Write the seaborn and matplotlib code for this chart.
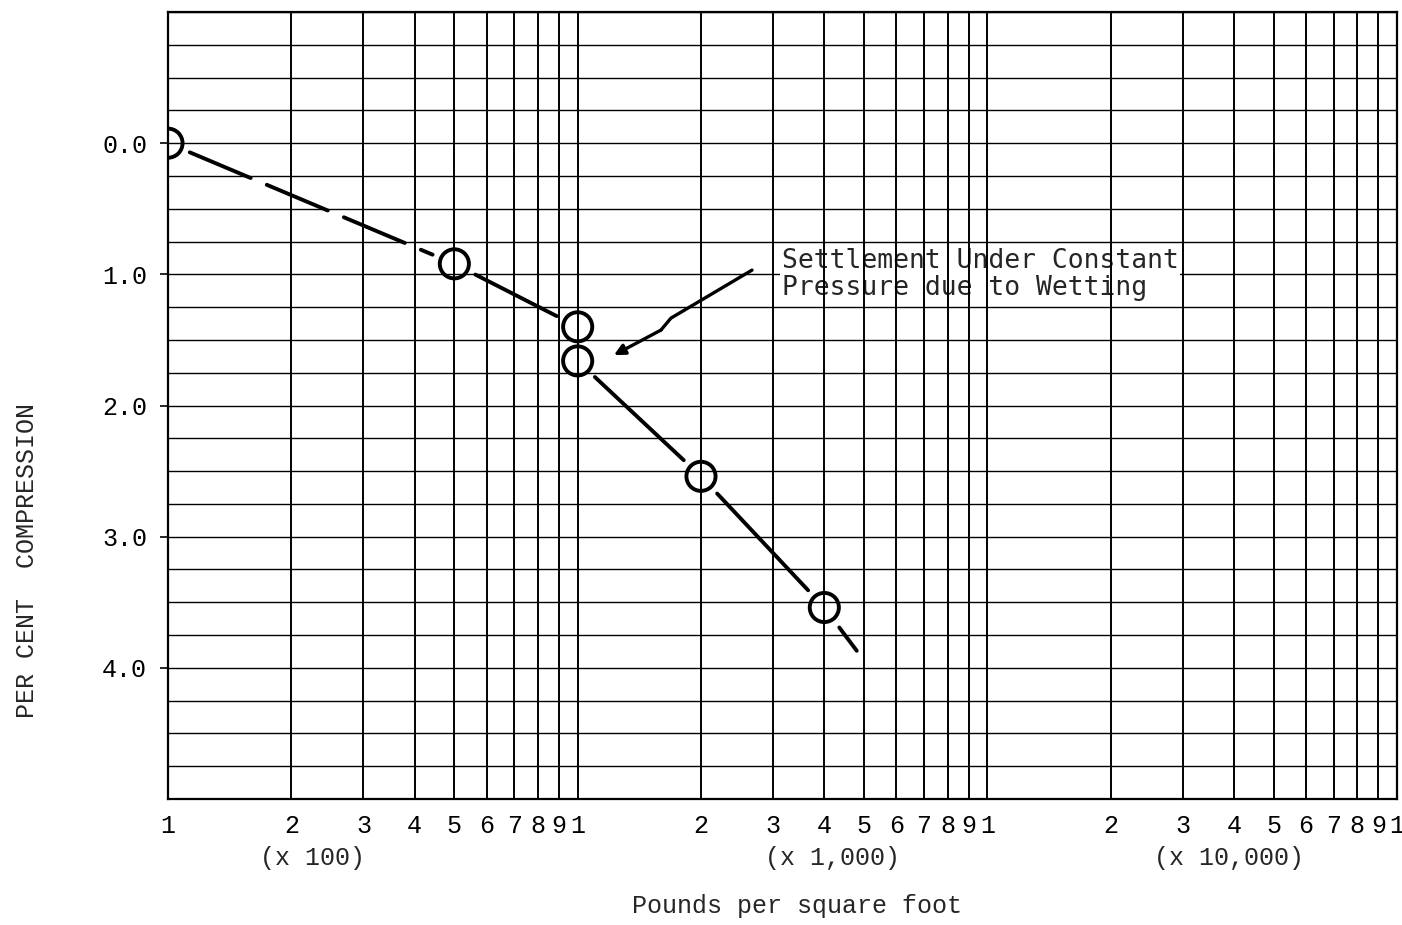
import numpy as np
import matplotlib
matplotlib.use("Agg")
import matplotlib.pyplot as plt
import seaborn as sns
from matplotlib.ticker import FixedLocator, FixedFormatter, MultipleLocator, NullLocator

# ---------------- data ----------------
pressure = [100, 500, 1000, 1000, 2000, 4000]          # lb / sq ft
compression = [0.0, 0.92, 1.40, 1.66, 2.54, 3.54]     # per cent
trend_end_pressure = 4800
trend_end_compression = 3.87
# style of the line joining consecutive points (None = no line)
segment_styles = ["dashed", "solid", None, "solid", "solid"]

x_tick_values = [m * 10 ** e for e in (2, 3, 4) for m in range(1, 10)] + [100000]
x_tick_labels = [str(m) for e in (2, 3, 4) for m in range(1, 10)] + ["1"]
y_tick_values = [0, 1, 2, 3, 4]
y_tick_labels = ["0.0", "1.0", "2.0", "3.0", "4.0"]
decade_labels = ["(x 100)", "(x 1,000)", "(x 10,000)"]
decade_label_x = [225, 4200, 39000]
annotation_text = "Settlement Under Constant\nPressure due to Wetting"

# ---------------- style ----------------
sns.set_style("white")
plt.rcParams["font.family"] = ["Liberation Mono", "DejaVu Sans Mono"]

fig = plt.figure(figsize=(14.02, 9.25), dpi=100)
W, H = 1402, 925
ax = fig.add_axes([168 / W, 1 - 799 / H, (1397 - 168) / W, (799 - 12) / H])

ax.set_xscale("log")
ax.set_xlim(100, 100000)
ax.set_ylim(5, -1)

ax.xaxis.set_major_locator(FixedLocator(x_tick_values))
ax.xaxis.set_major_formatter(FixedFormatter(x_tick_labels))
ax.xaxis.set_minor_locator(NullLocator())
ax.tick_params(axis="x", which="major", length=0, pad=11, labelsize=18, colors="black")

ax.yaxis.set_major_locator(FixedLocator(y_tick_values))
ax.yaxis.set_major_formatter(FixedFormatter(y_tick_labels))
ax.yaxis.set_minor_locator(MultipleLocator(0.25))
ax.tick_params(axis="y", which="major", direction="out", length=6, width=1.2,
               pad=9, labelsize=18, left=True, colors="black")
ax.tick_params(axis="y", which="minor", length=0)

ax.grid(axis="x", which="major", color="black", lw=1.4)
ax.grid(axis="y", which="both", color="black", lw=1.0)
for sp in ax.spines.values():
    sp.set_color("black")
    sp.set_linewidth(1.6)

# horizontal grid beneath the typed note, vertical grid over it
ax.yaxis.set_zorder(0.5)
ax.xaxis.set_zorder(2.0)

# ---------------- curve ----------------
for i, style in enumerate(segment_styles):
    if style is None:
        continue
    ls = (0, (17, 4.5)) if style == "dashed" else "solid"
    ax.annotate("", xy=(pressure[i + 1], compression[i + 1]),
                xytext=(pressure[i], compression[i]),
                arrowprops=dict(arrowstyle="-", lw=2.8, color="black",
                                linestyle=ls, shrinkA=17, shrinkB=17),
                zorder=3)
ax.annotate("", xy=(trend_end_pressure, trend_end_compression),
            xytext=(pressure[-1], compression[-1]),
            arrowprops=dict(arrowstyle="-", lw=2.8, color="black",
                            shrinkA=18, shrinkB=0),
            zorder=3)

sns.scatterplot(x=pressure, y=compression, ax=ax, marker="o", s=440,
                facecolors="none", edgecolor="black", linewidth=2.8, zorder=4)

# ---------------- note + arrow ----------------
ax.text(3150, 0.998, annotation_text, ha="left", va="center",
        fontsize=19, family=["DejaVu Sans Mono"], linespacing=1.05,
        zorder=1.5,
        bbox=dict(facecolor="white", edgecolor="none", pad=1.0))
ax.plot([2664, 1689, 1597], [0.968, 1.334, 1.425], color="black", lw=2.4,
        solid_capstyle="round", zorder=3)
ax.annotate("", xy=(1226, 1.616), xytext=(1597, 1.425),
            arrowprops=dict(arrowstyle="-|>", lw=2.4, color="black",
                            mutation_scale=16, shrinkA=0, shrinkB=0),
            zorder=3)

# ---------------- labels ----------------
for lab, xv in zip(decade_labels, decade_label_x):
    ax.text(xv, -0.075, lab, transform=ax.get_xaxis_transform(),
            ha="center", va="center", fontsize=18)

ax.set_xlabel("Pounds per square foot", fontsize=18, va="center")
ax.xaxis.set_label_coords((797 - 168) / 1229, (799 - 906) / 787)
ax.set_ylabel("PER CENT  COMPRESSION", fontsize=18, va="center", ha="center")
ax.yaxis.set_label_coords((27 - 168) / 1229, (799 - 560) / 787)

fig.savefig("out.png", dpi=100, facecolor="white")
